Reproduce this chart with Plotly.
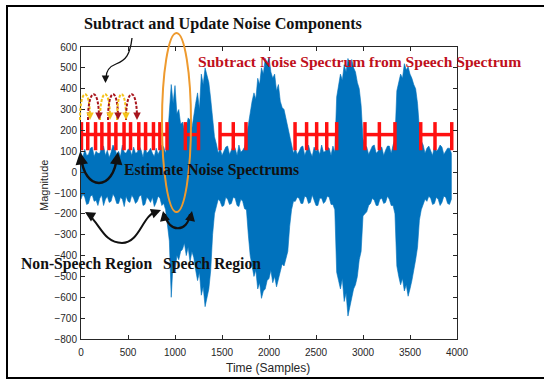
import plotly.graph_objects as go

# ---- waveform envelope (samples, magnitude), one value every 20 samples ----
env_x = list(range(0, 3960, 20))
upper = [95, 70, 110, 80, 85, 115, 120, 75, 100, 90,
         90, 120, 125, 80, 105, 70, 95, 130, 115, 85,
         100, 75, 130, 95, 90, 110, 110, 80, 120, 90,
         95, 125, 105, 70, 125, 90, 100, 115, 90, 75,
         115, 85, 105, 130, 120, 90, 160, 300, 420, 330,
         415, 280, 300, 230, 240, 200, 215, 260, 250, 210,
         280, 330, 380, 300, 470, 420, 500, 460, 430, 350,
         240, 170, 135, 90, 115, 80, 100, 120, 125, 85,
         105, 130, 115, 80, 130, 95, 105, 120, 170, 230,
         280, 340, 380, 350, 450, 420, 500, 470, 545, 520,
         550, 480, 450, 470, 390, 420, 340, 310, 300, 260,
         220, 180, 140, 90, 115, 85, 100, 120, 125, 80,
         105, 130, 95, 75, 120, 100, 110, 85, 130, 95,
         100, 120, 115, 80, 125, 95, 360, 420, 470, 440,
         515, 480, 545, 510, 540, 500, 480, 430, 400, 320,
         160, 130, 120, 85, 110, 125, 130, 90, 100, 115,
         120, 80, 105, 125, 125, 90, 130, 160, 390, 430,
         470, 450, 520, 490, 505, 470, 450, 420, 400, 330,
         210, 150, 130, 90, 115, 125, 105, 80, 125, 100,
         110, 130, 120, 85, 100, 115, 115, 90]
lower = [-130, -105, -120, -155, -150, -115, -110, -140, -135, -160,
         -125, -110, -160, -130, -115, -145, -140, -105, -120, -150,
         -150, -120, -130, -165, -115, -140, -145, -110, -125, -150,
         -140, -115, -110, -160, -155, -120, -130, -145, -120, -165,
         -145, -115, -125, -160, -150, -180, -260, -330, -600, -430,
         -480, -400, -420, -380, -370, -340, -400, -360, -430, -380,
         -410, -470, -520, -480, -590, -550, -645, -600, -560, -470,
         -300, -200, -170, -130, -140, -165, -160, -120, -130, -155,
         -150, -120, -125, -160, -165, -130, -140, -175, -180, -300,
         -400, -450, -500, -470, -560, -530, -605, -570, -560, -520,
         -510, -470, -530, -500, -550, -510, -480, -440, -450, -420,
         -380, -260, -180, -140, -140, -120, -125, -150, -150, -115,
         -120, -150, -145, -110, -130, -160, -160, -125, -125, -150,
         -140, -115, -120, -155, -155, -180, -480, -520, -560, -510,
         -620, -580, -690, -640, -610, -560, -540, -500, -420, -380,
         -210, -200, -190, -160, -150, -125, -135, -160, -160, -130,
         -125, -150, -145, -115, -130, -160, -160, -200, -450, -500,
         -540, -510, -570, -540, -595, -560, -520, -480, -420, -360,
         -230, -180, -160, -130, -140, -115, -125, -155, -150, -120,
         -130, -160, -145, -115, -120, -150, -155, -130]
assert len(env_x) == len(upper) == len(lower)

# ---- noise-estimation frame markers (sample positions) ----
marker_groups = [
    [5, 72, 155, 222, 298, 371, 458, 527, 615, 687, 771, 839, 915],
    [1110, 1250],
    [1479, 1620, 1755],
    [2277, 2400, 2507, 2614, 2720],
    [3021, 3174, 3340],
    [3614, 3766, 3944],
]
marker_level = 180
marker_low, marker_high = 105, 240

x_ticks = [0, 500, 1000, 1500, 2000, 2500, 3000, 3500, 4000]
y_ticks = list(range(-800, 601, 100))

W, H = 544, 380
PL, PR, PT, PB = 81, 457, 47, 339


def px(x):
    return (x - PL) / (PR - PL)


def py(y):
    return (PB - y) / (PB - PT)


BLUE = "#0072BD"
RED = "#ff1010"
DARK = "#111111"
SERIF = "Liberation Serif"

fig = go.Figure()

# waveform as a filled envelope
fig.add_trace(go.Scatter(
    x=env_x + env_x[::-1],
    y=upper + lower[::-1],
    mode="lines", fill="toself", fillcolor=BLUE,
    line=dict(color=BLUE, width=0.6), hoverinfo="skip",
))

# frame markers
mx, my = [], []
for g in marker_groups:
    mx += [g[0], g[-1], None]
    my += [marker_level, marker_level, None]
    for t in g:
        mx += [t, t, None]
        my += [marker_low, marker_high, None]
fig.add_trace(go.Scatter(x=mx, y=my, mode="lines",
                         line=dict(color=RED, width=3.5), hoverinfo="skip"))

shapes = []


def path_px(pts_cmd):
    out = []
    for item in pts_cmd:
        if isinstance(item, str):
            out.append(item)
        else:
            out.append(f"{px(item[0]):.5f},{py(item[1]):.5f}")
    return " ".join(out)


def curve(cmds, color=DARK, width=2, dash="solid"):
    shapes.append(dict(type="path", xref="paper", yref="paper",
                       path=path_px(cmds),
                       line=dict(color=color, width=width, dash=dash)))


# outer frame
shapes.append(dict(type="rect", xref="paper", yref="paper",
                   x0=px(7), x1=px(548), y0=py(378), y1=py(6),
                   line=dict(color="black", width=2)))

# orange ellipse around first speech burst
shapes.append(dict(type="circle", xref="paper", yref="paper",
                   x0=px(162), x1=px(191), y0=py(212), y1=py(33),
                   line=dict(color="#ee9a2e", width=2)))

# update arcs
arc_specs = [((80, 90), "#f4c21a"), ((88, 99), "#a8141c"),
             ((100, 110), "#f4c21a"), ((108, 118), "#a8141c"),
             ((117, 126), "#f4c21a"), ((126, 137), "#a8141c")]
for (a, b), c in arc_specs:
    curve(["M", (a, 120), "C", (a, 86), (b, 86), (b, 118)], color=c, width=2, dash="3px,1.5px")

# black curved arrows
curve(["M", (132, 38), "C", (130, 55), (126, 60), (116, 64), "C", (108, 67), (106, 72), (106, 78)], width=1.3)
curve(["M", (81, 156), "C", (84, 192), (114, 192), (117, 156)], width=2.5)
curve(["M", (88, 214), "C", (100, 224), (104, 243), (122, 243), "C", (140, 243), (142, 215), (157, 211)], width=2)
curve(["M", (165, 214), "C", (168, 233), (188, 233), (190, 214)], width=2.2)

annotations = []


def head(x, y, dx, dy, color=DARK, width=2):
    annotations.append(dict(xref="paper", yref="paper", x=px(x), y=py(y),
                            ax=dx, ay=dy, text="", showarrow=True,
                            arrowhead=2, arrowsize=1, arrowwidth=width,
                            arrowcolor=color))


head(105.5, 83, 0, -6, width=1.5)
head(80, 152, 1, 7, width=2.5)
head(118, 152, -1, 7, width=2.5)
head(85, 212, 5, 3)
head(161, 210, -5, 2)
head(163, 211, 1, 5)
head(192, 211, -1, 5)
for (a, b), c in arc_specs:
    head(b, 120, 0, -5, color=c, width=1.5)


def label(text, x, y, color=DARK, size=16):
    annotations.append(dict(xref="paper", yref="paper", x=px(x), y=py(y),
                            xanchor="left", yanchor="middle", text=f"<b>{text}</b>",
                            showarrow=False,
                            font=dict(family=SERIF, size=size, color=color)))


label("Subtract and Update Noise Components", 82, 24, size=16.2)
label("Subtract Noise Spectrum from Speech Spectrum", 196, 62, color="#c0101c", size=15.6)
label("Estimate Noise Spectrums", 122, 170, size=15.7)
label("Non-Speech Region", 19, 264, size=15.7)
label("Speech Region", 161, 264, size=15.7)

# axis titles
annotations.append(dict(xref="paper", yref="paper", x=px(268), y=py(368),
                        xanchor="center", yanchor="middle",
                        text="Time (Samples)", showarrow=False,
                        font=dict(family="Liberation Sans", size=12, color="#262626")))
annotations.append(dict(xref="paper", yref="paper", x=px(44), y=py(186),
                        xanchor="center", yanchor="middle",
                        text="Magnitude", showarrow=False, textangle=-90,
                        font=dict(family="Liberation Sans", size=11, color="#262626")))

axis_common = dict(showgrid=False, zeroline=False, showline=True, linecolor="#262626",
                   linewidth=1, mirror="ticks", ticks="inside", ticklen=4,
                   tickcolor="#262626",
                   tickfont=dict(family="Liberation Sans", size=10, color="#262626"))

fig.update_layout(
    width=W, height=H,
    margin=dict(l=PL, r=W - PR, t=PT, b=H - PB),
    paper_bgcolor="white", plot_bgcolor="white",
    showlegend=False,
    xaxis=dict(range=[0, 4000], tickvals=x_ticks, ticklabelstandoff=4, **axis_common),
    yaxis=dict(range=[-800, 600], tickvals=y_ticks, ticklabelstandoff=1, **axis_common),
    shapes=shapes, annotations=annotations,
)

fig.write_html("out.html")
